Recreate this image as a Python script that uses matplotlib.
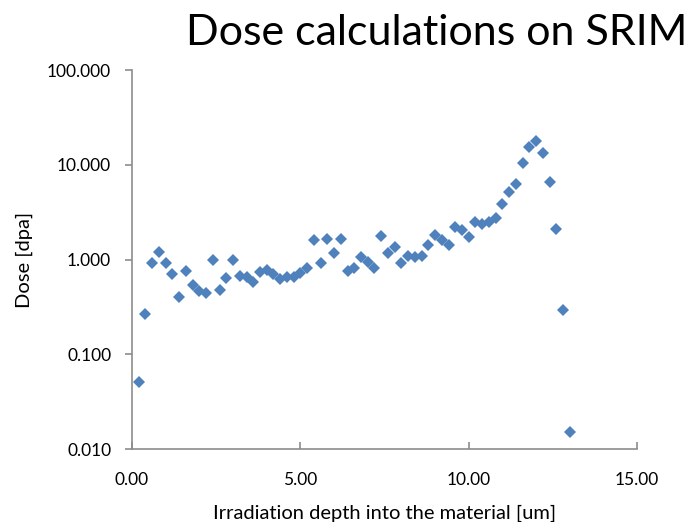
import matplotlib
matplotlib.use("Agg")
import matplotlib.pyplot as plt
from matplotlib.ticker import FixedLocator, FormatStrFormatter
import numpy as np

# depth [um] and dose [dpa]
depth = [0.2, 0.4, 0.6, 0.8, 1.0, 1.2, 1.4, 1.6, 1.8, 2.0,
         2.2, 2.4, 2.6, 2.8, 3.0, 3.2, 3.4, 3.6, 3.8, 4.0,
         4.2, 4.4, 4.6, 4.8, 5.0, 5.2, 5.4, 5.6, 5.8, 6.0,
         6.2, 6.4, 6.6, 6.8, 7.0, 7.2, 7.4, 7.6, 7.8, 8.0,
         8.2, 8.4, 8.6, 8.8, 9.0, 9.2, 9.4, 9.6, 9.8, 10.0,
         10.2, 10.4, 10.6, 10.8, 11.0, 11.2, 11.4, 11.6, 11.8, 12.0,
         12.2, 12.4, 12.6, 12.8, 13.0]
dose = [0.051, 0.267, 0.93, 1.19, 0.92, 0.71, 0.40, 0.75, 0.54, 0.47,
        0.44, 1.00, 0.48, 0.64, 0.99, 0.67, 0.66, 0.58, 0.74, 0.78,
        0.71, 0.62, 0.66, 0.66, 0.72, 0.82, 1.61, 0.92, 1.64, 1.18,
        1.64, 0.75, 0.81, 1.06, 0.94, 0.81, 1.78, 1.17, 1.35, 0.93,
        1.10, 1.06, 1.10, 1.42, 1.81, 1.61, 1.43, 2.23, 2.06, 1.72,
        2.50, 2.36, 2.48, 2.75, 3.87, 5.13, 6.24, 10.5, 15.3, 17.9,
        13.4, 6.55, 2.09, 0.294, 0.0152]

xticks = [0, 5, 10, 15]
yticks = [0.01, 0.1, 1, 10, 100]

plt.rcParams["font.family"] = ["Lato", "DejaVu Sans"]
grey = "#8c8c8c"

fig = plt.figure(figsize=(6.96, 5.22), dpi=100)
ax = fig.add_axes([0.1897, 0.1398, 0.7256, 0.726])

ax.plot(depth, dose, linestyle="none", marker="D", markersize=6,
        color="#4F81BD", markeredgewidth=0)

ax.set_yscale("log")
ax.set_xlim(0, 15)
ax.set_ylim(0.01, 100)
ax.xaxis.set_major_locator(FixedLocator(xticks))
ax.yaxis.set_major_locator(FixedLocator(yticks))
ax.yaxis.set_minor_locator(FixedLocator([]))
ax.xaxis.set_major_formatter(FormatStrFormatter("%.2f"))
ax.yaxis.set_major_formatter(FormatStrFormatter("%.3f"))

for side in ["top", "right"]:
    ax.spines[side].set_visible(False)
for side in ["left", "bottom"]:
    ax.spines[side].set_color(grey)
    ax.spines[side].set_linewidth(1.2)

ax.tick_params(axis="x", direction="in", length=5, color=grey, width=1.2,
               labelsize=12.5, pad=16.5)
ax.tick_params(axis="y", direction="out", length=5, color=grey, width=1.2,
               labelsize=12.5, pad=10)

ax.set_xlabel("Irradiation depth into the material [um]", fontsize=14.5, labelpad=12)
ax.set_ylabel("Dose [dpa]", fontsize=14.5, labelpad=10)

fig.text(0.628, 0.937, "Dose calculations on SRIM", fontsize=31,
         ha="center", va="center")

fig.savefig("out.png", dpi=100)
